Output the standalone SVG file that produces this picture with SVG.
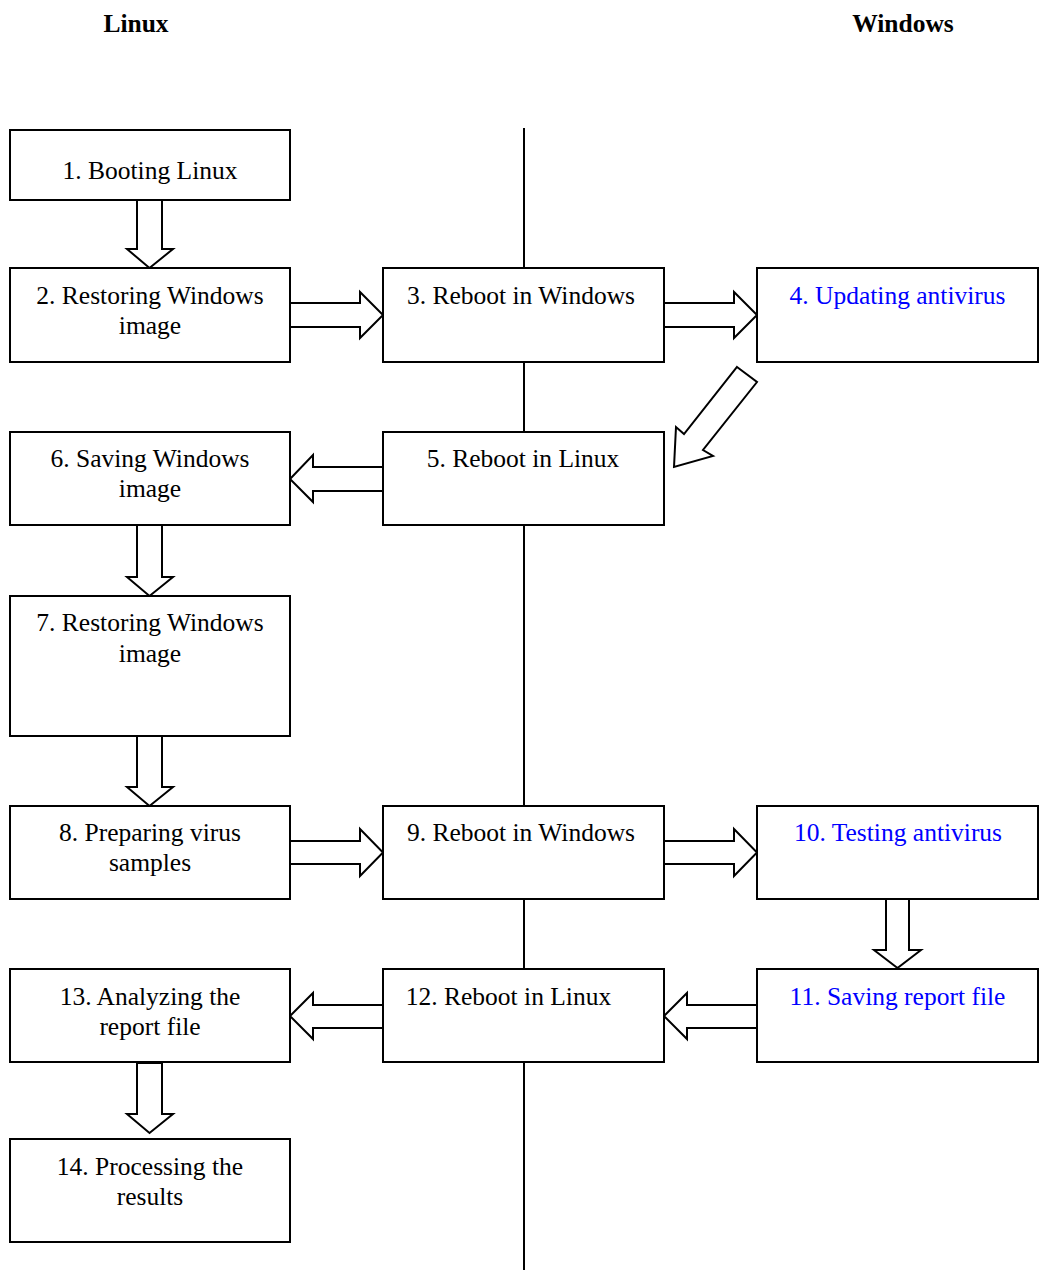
<svg xmlns="http://www.w3.org/2000/svg" width="1040" height="1270" viewBox="0 0 1040 1270">
<style>
.box{fill:#fff;stroke:#000;stroke-width:2}
.arr{fill:#fff;stroke:#000;stroke-width:2;stroke-linejoin:miter}
.t{font-family:"Liberation Serif","Times New Roman",serif;font-size:25.5px;fill:#000;text-anchor:middle}
.b{fill:#0000ff}
.h{font-weight:bold}
</style>
<rect width="1040" height="1270" fill="#fff"/>
<text class="t h" x="136" y="32">Linux</text>
<text class="t h" x="903" y="32">Windows</text>
<g id="lane-divider">
<line x1="524" y1="128" x2="524" y2="1270" stroke="#000" stroke-width="2"/>
</g>
<g id="connectors">
<polygon class="arr" points="137,200 162,200 162,249 173,249 149.5,268 127,249 137,249"/>
<polygon class="arr" points="290,303 360,303 360,292 383,315 360,338 360,327 290,327"/>
<polygon class="arr" points="664,303 734,303 734,292 757,315 734,338 734,327 664,327"/>
<polygon class="arr" points="737,367 757,382 703,450 713,456 674,467 676,427 684,434"/>
<polygon class="arr" points="383,467 313,467 313,455 290,479 313,502 313,491 383,491"/>
<polygon class="arr" points="137,525 162,525 162,577 173,577 149.5,596 127,577 137,577"/>
<polygon class="arr" points="137,736 162,736 162,787 173,787 149.5,806 127,787 137,787"/>
<polygon class="arr" points="290,841 360,841 360,829 383,852.5 360,876 360,864 290,864"/>
<polygon class="arr" points="664,841 734,841 734,829 757,852.5 734,876 734,864 664,864"/>
<polygon class="arr" points="886,899 909,899 909,950 921,950 897.5,968 874,950 886,950"/>
<polygon class="arr" points="757,1005 687,1005 687,993 664,1016 687,1039 687,1028 757,1028"/>
<polygon class="arr" points="383,1005 313,1005 313,993 290,1016 313,1039 313,1028 383,1028"/>
<polygon class="arr" points="137,1063 162,1063 162,1114 173,1114 149.5,1133 127,1114 137,1114"/>
</g>
<g id="n1"><rect class="box" x="10" y="130" width="280" height="70"/><text class="t" x="150" y="179">1. Booting Linux</text></g>
<g id="n2"><rect class="box" x="10" y="268" width="280" height="94"/><text class="t" x="150" y="304">2. Restoring Windows</text><text class="t" x="150" y="334">image</text></g>
<g id="n3"><rect class="box" x="383" y="268" width="281" height="94"/><text class="t" x="521" y="304">3. Reboot in Windows</text></g>
<g id="n4"><rect class="box" x="757" y="268" width="281" height="94"/><text class="t b" x="897.5" y="304">4. Updating antivirus</text></g>
<g id="n5"><rect class="box" x="383" y="432" width="281" height="93"/><text class="t" x="523" y="467">5. Reboot in Linux</text></g>
<g id="n6"><rect class="box" x="10" y="432" width="280" height="93"/><text class="t" x="150" y="467">6. Saving Windows</text><text class="t" x="150" y="497">image</text></g>
<g id="n7"><rect class="box" x="10" y="596" width="280" height="140"/><text class="t" x="150" y="631">7. Restoring Windows</text><text class="t" x="150" y="662">image</text></g>
<g id="n8"><rect class="box" x="10" y="806" width="280" height="93"/><text class="t" x="150" y="841">8. Preparing virus</text><text class="t" x="150" y="871">samples</text></g>
<g id="n9"><rect class="box" x="383" y="806" width="281" height="93"/><text class="t" x="521" y="841">9. Reboot in Windows</text></g>
<g id="n10"><rect class="box" x="757" y="806" width="281" height="93"/><text class="t b" x="898" y="841">10. Testing antivirus</text></g>
<g id="n11"><rect class="box" x="757" y="969" width="281" height="93"/><text class="t b" x="897.5" y="1005">11. Saving report file</text></g>
<g id="n12"><rect class="box" x="383" y="969" width="281" height="93"/><text class="t" x="508.5" y="1005">12. Reboot in Linux</text></g>
<g id="n13"><rect class="box" x="10" y="969" width="280" height="93"/><text class="t" x="150" y="1005">13. Analyzing the</text><text class="t" x="150" y="1035">report file</text></g>
<g id="n14"><rect class="box" x="10" y="1139" width="280" height="103"/><text class="t" x="150" y="1175">14. Processing the</text><text class="t" x="150" y="1205">results</text></g>
</svg>
